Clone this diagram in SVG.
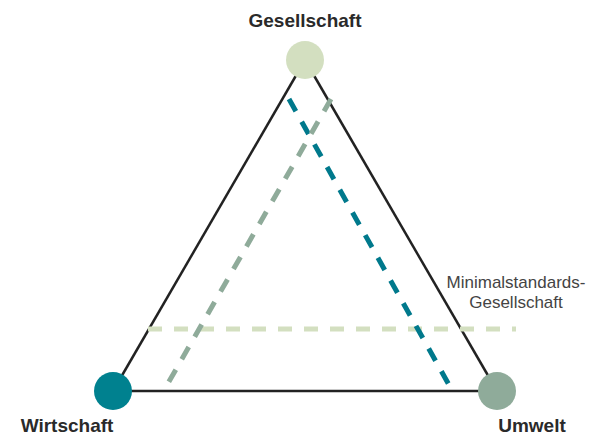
<svg xmlns="http://www.w3.org/2000/svg" width="599" height="437" viewBox="0 0 599 437">
<style>
.edge{stroke:#222;stroke-width:2.5;fill:none}
.dash{stroke-width:5;fill:none;stroke-dasharray:14 12}
.lbl{font-family:"Liberation Sans",Arial,sans-serif;font-weight:bold;font-size:19px;fill:#2a2a2a;text-anchor:middle}
.note{font-family:"Liberation Sans",Arial,sans-serif;font-size:17px;fill:#444;text-anchor:middle}
</style>
<rect width="599" height="437" fill="#fff"/>
<g id="connectors">
<line class="edge" x1="305" y1="60" x2="113" y2="391"/>
<line class="edge" x1="305" y1="60" x2="497" y2="391"/>
<line class="edge" x1="113" y1="391" x2="497" y2="391"/>
<line class="dash" stroke="#d3dfc0" x1="148" y1="329" x2="516" y2="329"/>
<line class="dash" stroke="#00798c" x1="289" y1="99" x2="453" y2="392"/>
<line class="dash" stroke="#8fab9a" x1="331" y1="99" x2="163" y2="392"/>
</g>
<g id="gesellschaft">
<circle cx="305" cy="60" r="19" fill="#d3dfc0"/>
<text class="lbl" x="305" y="27">Gesellschaft</text>
</g>
<g id="wirtschaft">
<circle cx="113" cy="391" r="19" fill="#00818f"/>
<text class="lbl" x="67" y="432">Wirtschaft</text>
</g>
<g id="umwelt">
<circle cx="497" cy="391" r="19" fill="#8fab9a"/>
<text class="lbl" x="532" y="432">Umwelt</text>
</g>
<g id="minimalstandards">
<text class="note" x="516" y="288">Minimalstandards-</text>
<text class="note" x="516" y="308">Gesellschaft</text>
</g>
</svg>
